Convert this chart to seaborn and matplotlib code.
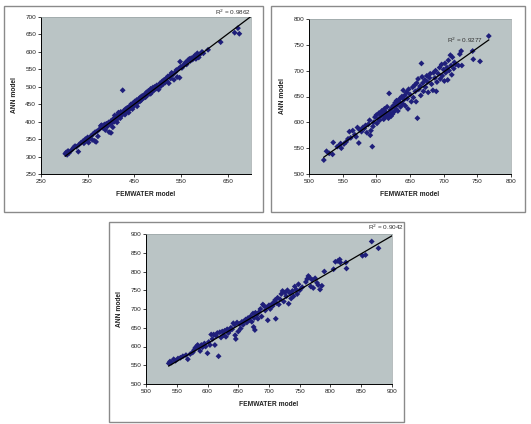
import numpy as np
import matplotlib
matplotlib.use('Agg')
import matplotlib.pyplot as plt
import seaborn as sns
from matplotlib.patches import Rectangle

# panel 1: FEMWATER vs ANN (R2 0.9862)
fem1 = [302, 304, 306, 308, 310, 315, 320, 323, 326, 330, 332, 336, 340, 342, 345, 348, 350, 352, 355, 358,
        360, 362, 365, 366, 368, 370, 372, 375, 378, 380, 383, 386, 388, 390, 392, 395, 396, 398, 400, 400,
        402, 404, 405, 407, 408, 410, 412, 413, 415, 416, 418, 420, 421, 423, 425, 426, 428, 430, 431, 433,
        435, 436, 438, 440, 441, 443, 445, 446, 448, 450, 451, 453, 455, 456, 458, 460, 462, 463, 465, 467,
        470, 472, 474, 476, 478, 480, 482, 485, 485, 487, 490, 492, 494, 496, 498, 500, 502, 505, 507, 510,
        512, 514, 516, 518, 520, 522, 524, 526, 528, 530, 532, 535, 538, 540, 542, 545, 547, 548, 550, 552,
        555, 558, 560, 562, 565, 568, 570, 572, 575, 578, 580, 582, 585, 588, 590, 595, 598, 608, 635, 665,
        672, 675]
ann1 = [308, 312, 305, 316, 310, 318, 326, 330, 328, 314, 335, 340, 344, 338, 350, 346, 355, 340, 352, 360,
        348, 365, 345, 370, 342, 372, 358, 378, 388, 390, 382, 392, 376, 394, 386, 398, 370, 392, 402, 368,
        396, 384, 408, 400, 418, 412, 405, 398, 420, 426, 414, 410, 428, 418, 490, 424, 432, 420, 436, 428,
        440, 432, 426, 444, 438, 450, 442, 436, 454, 446, 458, 450, 462, 444, 456, 466, 458, 470, 462, 474,
        468, 478, 470, 484, 476, 488, 480, 494, 480, 484, 498, 490, 500, 494, 504, 496, 492, 510, 502, 516,
        508, 520, 512, 524, 516, 530, 510, 532, 524, 540, 534, 520, 542, 548, 528, 552, 526, 572, 558, 554,
        560, 566, 570, 564, 576, 580, 574, 582, 578, 586, 590, 580, 596, 584, 592, 600, 596, 606, 628, 655,
        668, 652]

# panel 2 (R2 0.9277)
fem2 = [522, 526, 530, 535, 536, 542, 545, 547, 548, 552, 555, 558, 560, 562, 565, 568, 570, 572, 574, 575,
        578, 580, 582, 584, 586, 588, 590, 591, 592, 594, 595, 596, 598, 600, 601, 603, 604, 605, 607, 608,
        610, 611, 612, 613, 614, 615, 616, 617, 618, 619, 620, 621, 622, 623, 624, 625, 626, 628, 629, 630,
        631, 632, 634, 635, 636, 638, 639, 640, 641, 642, 643, 645, 646, 647, 648, 650, 652, 654, 655, 657,
        658, 659, 660, 661, 662, 663, 665, 666, 667, 668, 669, 670, 672, 673, 675, 676, 677, 679, 680, 682,
        684, 685, 687, 688, 689, 690, 692, 694, 695, 697, 698, 700, 701, 702, 703, 705, 706, 707, 708, 710,
        711, 712, 713, 715, 716, 718, 722, 724, 726, 727, 743, 744, 754, 767]
ann2 = [527, 544, 540, 538, 561, 553, 555, 559, 550, 558, 562, 568, 582, 570, 584, 576, 572, 590, 560, 586,
        582, 590, 588, 594, 580, 596, 604, 575, 584, 553, 592, 600, 610, 614, 598, 606, 618, 604, 612, 622,
        616, 606, 626, 610, 620, 614, 630, 612, 608, 656, 618, 624, 612, 628, 616, 632, 620, 638, 626, 642,
        634, 622, 640, 646, 630, 650, 636, 662, 644, 652, 632, 658, 646, 626, 664, 654, 640, 668, 648, 672,
        660, 640, 676, 608, 684, 664, 670, 652, 714, 688, 676, 660, 682, 668, 690, 678, 658, 686, 694, 674,
        662, 696, 686, 700, 660, 678, 694, 706, 684, 712, 690, 702, 680, 714, 696, 706, 682, 720, 700, 730,
        710, 692, 726, 704, 716, 712, 710, 732, 738, 710, 738, 722, 718, 767]

# panel 3 (R2 0.9042)
fem3 = [537, 539, 541, 545, 548, 552, 556, 560, 565, 568, 572, 576, 578, 580, 582, 584, 586, 588, 590, 592,
        595, 597, 600, 602, 604, 606, 608, 610, 612, 614, 616, 618, 620, 622, 624, 626, 628, 630, 632, 634,
        636, 638, 640, 642, 644, 645, 646, 648, 650, 652, 654, 656, 658, 660, 662, 664, 666, 668, 670, 672,
        674, 675, 676, 677, 678, 680, 682, 684, 686, 688, 690, 692, 694, 696, 698, 700, 702, 704, 706, 708,
        710, 711, 712, 714, 716, 718, 720, 722, 724, 726, 728, 730, 732, 734, 736, 738, 740, 742, 744, 746,
        748, 750, 754, 760, 762, 764, 766, 768, 770, 772, 775, 778, 780, 783, 786, 790, 805, 808, 812, 815,
        816, 825, 826, 852, 857, 867, 878]
ann3 = [555, 560, 557, 566, 562, 568, 570, 574, 577, 566, 580, 584, 590, 596, 600, 604, 598, 588, 604, 598,
        608, 600, 582, 612, 604, 632, 620, 632, 604, 628, 636, 574, 638, 624, 640, 630, 642, 626, 646, 636,
        642, 650, 646, 662, 658, 630, 620, 664, 640, 660, 648, 666, 658, 668, 672, 664, 676, 670, 680, 666,
        688, 652, 676, 644, 690, 684, 674, 692, 700, 680, 712, 708, 696, 704, 670, 710, 700, 712, 708, 718,
        724, 674, 716, 730, 712, 726, 740, 748, 720, 744, 734, 750, 714, 742, 728, 748, 734, 760, 752, 740,
        766, 750, 758, 772, 780, 788, 784, 760, 778, 756, 782, 770, 764, 752, 762, 800, 806, 826, 828, 832,
        824, 824, 808, 842, 844, 880, 862]

panels = [
    dict(x=fem1, y=ann1, xlim=(250, 700), ylim=(250, 700), xt=[250, 350, 450, 550, 650],
         yt=range(250, 701, 50), end=700,
         r2='R$^2$ = 0.9862', r2pos=(1.0, 1.0), r2va='bottom',
         pos=[41, 17, 251, 174], frame=[4, 6, 263, 212]),
    dict(x=fem2, y=ann2, xlim=(500, 800), ylim=(500, 800), xt=range(500, 801, 50),
         yt=range(500, 801, 50), end=None,
         r2='R$^2$ = 0.9277', r2pos=(0.86, 0.865), r2va='center',
         pos=[309, 19, 511, 174], frame=[271, 6, 525, 212]),
    dict(x=fem3, y=ann3, xlim=(500, 900), ylim=(500, 900), xt=range(500, 901, 50),
         yt=range(500, 901, 50), end=900,
         r2='R$^2$ = 0.9042', r2pos=(1.05, 1.045), r2va='center',
         pos=[146, 234, 392, 384], frame=[109, 222, 404, 422]),
]

W, H = 531, 424
plt.rcParams['font.family'] = ['Liberation Sans', 'DejaVu Sans']
fig = plt.figure(figsize=(W / 100, H / 100), dpi=100)

for p in panels:
    l, t, r, b = p['frame']
    fig.patches.append(Rectangle((l / W, 1 - b / H), (r - l) / W, (b - t) / H, transform=fig.transFigure,
                                 fill=False, edgecolor='#8a8a8a', linewidth=1.0))
    l, t, r, b = p['pos']
    ax = fig.add_axes([l / W, 1 - b / H, (r - l) / W, (b - t) / H])
    ax.set_facecolor('#bac4c5')
    x = np.array(p['x'], dtype=float)
    y = np.array(p['y'], dtype=float)
    sns.scatterplot(x=x, y=y, ax=ax, marker='D', s=9, color='#1f1f7a', edgecolor='none', linewidth=0, zorder=3)
    # linear trendline, as in the spreadsheet
    k, c = np.polyfit(x, y, 1)
    xe = p['end'] if p['end'] else x.max()
    xs = np.array([x.min(), xe])
    ax.plot(xs, k * xs + c, color='black', linewidth=0.9, zorder=4)
    ax.set_xlim(p['xlim'])
    ax.set_ylim(p['ylim'])
    ax.set_xticks(list(p['xt']))
    ax.set_yticks(list(p['yt']))
    ax.tick_params(direction='out', length=2, width=0.6, labelsize=4.6, pad=1.5, colors='#222222')
    for s in ['top', 'right']:
        ax.spines[s].set_color('#9aa3a4')
        ax.spines[s].set_linewidth(0.5)
    for s in ['left', 'bottom']:
        ax.spines[s].set_color('black')
        ax.spines[s].set_linewidth(0.7)
    ax.set_xlabel('FEMWATER model', fontsize=4.8, fontweight='bold', labelpad=5, color='#222222')
    ax.set_ylabel('ANN model', fontsize=4.8, fontweight='bold', labelpad=5, color='#222222')
    ax.text(p['r2pos'][0], p['r2pos'][1], p['r2'], transform=ax.transAxes, ha='right', va=p['r2va'],
            fontsize=4.6, color='#333333')

fig.savefig('out.png', dpi=100)
